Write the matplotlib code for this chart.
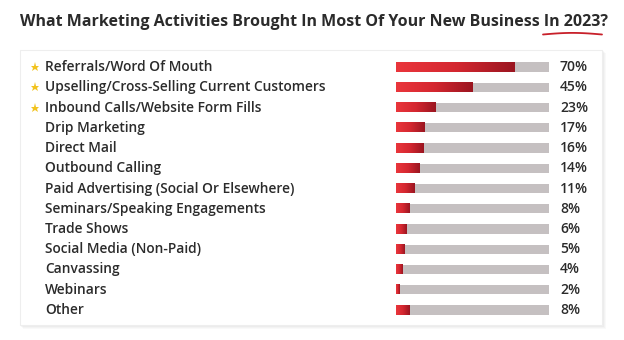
import matplotlib.pyplot as plt
import numpy as np
from matplotlib.colors import LinearSegmentedColormap
from matplotlib.patches import Rectangle
from matplotlib import transforms

plt.rcParams['font.family'] = ['Open Sans', 'DejaVu Sans']

activities = [
    'Referrals/Word Of Mouth',
    'Upselling/Cross-Selling Current Customers',
    'Inbound Calls/Website Form Fills',
    'Drip Marketing',
    'Direct Mail',
    'Outbound Calling',
    'Paid Advertising (Social Or Elsewhere)',
    'Seminars/Speaking Engagements',
    'Trade Shows',
    'Social Media (Non-Paid)',
    'Canvassing',
    'Webinars',
    'Other',
]
shares = [70, 45, 23, 17, 16, 14, 11, 8, 6, 5, 4, 2, 8]
starred = [True, True, True] + [False] * 10
track_max = 90

W, H = 624, 340
fig = plt.figure(figsize=(W / 100, H / 100), dpi=100)
fig.patch.set_facecolor('white')

# background layer in pixel units: card, shadow, title
bg = fig.add_axes([0, 0, 1, 1])
bg.set_xlim(0, W)
bg.set_ylim(H, 0)
bg.axis('off')

for k, a in enumerate([0.05, 0.06, 0.08]):
    off = 3 - k
    bg.add_patch(Rectangle((20 + off, 50 + off), 583, 276, facecolor='#9a9a9a',
                           edgecolor='none', alpha=a, zorder=1))
bg.add_patch(Rectangle((20, 50), 582, 275, facecolor='white',
                       edgecolor='#eeeeee', linewidth=0.8, zorder=2))

bg.text(20, 22, 'What Marketing Activities Brought In Most Of Your New Business In 2023?',
        fontsize=11.5, fontweight='bold', color='#2b2b2b', va='center', ha='left', zorder=3)
ux = np.linspace(543, 602, 40)
uy = 34.5 - 1.6 * np.sin(np.linspace(0, np.pi, 40))
bg.plot(ux, uy, color='#c8202a', linewidth=1.3, solid_capstyle='round', zorder=3)

# bar panel
ax = fig.add_axes([396 / W, (H - 320) / H, 153 / W, 263 / H])
ax.axis('off')

red_cmap = LinearSegmentedColormap.from_list('red_grad', ['#ea363c', '#d42730', '#9a1520'])
grad = np.linspace(0, 1, 256).reshape(1, -1)
bar_h = 0.46

ax.barh(range(len(activities)), [track_max] * len(activities), height=bar_h,
        color='#c5c0c1', zorder=1)
for i, v in enumerate(shares):
    ax.imshow(grad, cmap=red_cmap, aspect='auto', interpolation='bilinear',
              extent=[0, v, i + bar_h / 2, i - bar_h / 2], zorder=2)
ax.set_xlim(0, track_max)
ax.set_ylim(len(activities) - 0.5, -0.5)

tr = transforms.blended_transform_factory(ax.transAxes, ax.transData)
px = lambda x: (x - 396) / 153
for i, (name, v, star) in enumerate(zip(activities, shares, starred)):
    ax.text(px(45), i, name, transform=tr, fontsize=9.9, fontweight='semibold',
            color='#2b2b2b', va='center', ha='left', clip_on=False)
    ax.text(px(560), i, f'{v}%', transform=tr, fontsize=10, fontweight='semibold',
            color='#2b2b2b', va='center', ha='left', clip_on=False)
    if star:
        ax.plot([px(35)], [i], marker='*', markersize=6.5, color='#f2c31f',
                transform=tr, clip_on=False, markeredgewidth=0)

fig.savefig('out.png', dpi=100, facecolor='white')
